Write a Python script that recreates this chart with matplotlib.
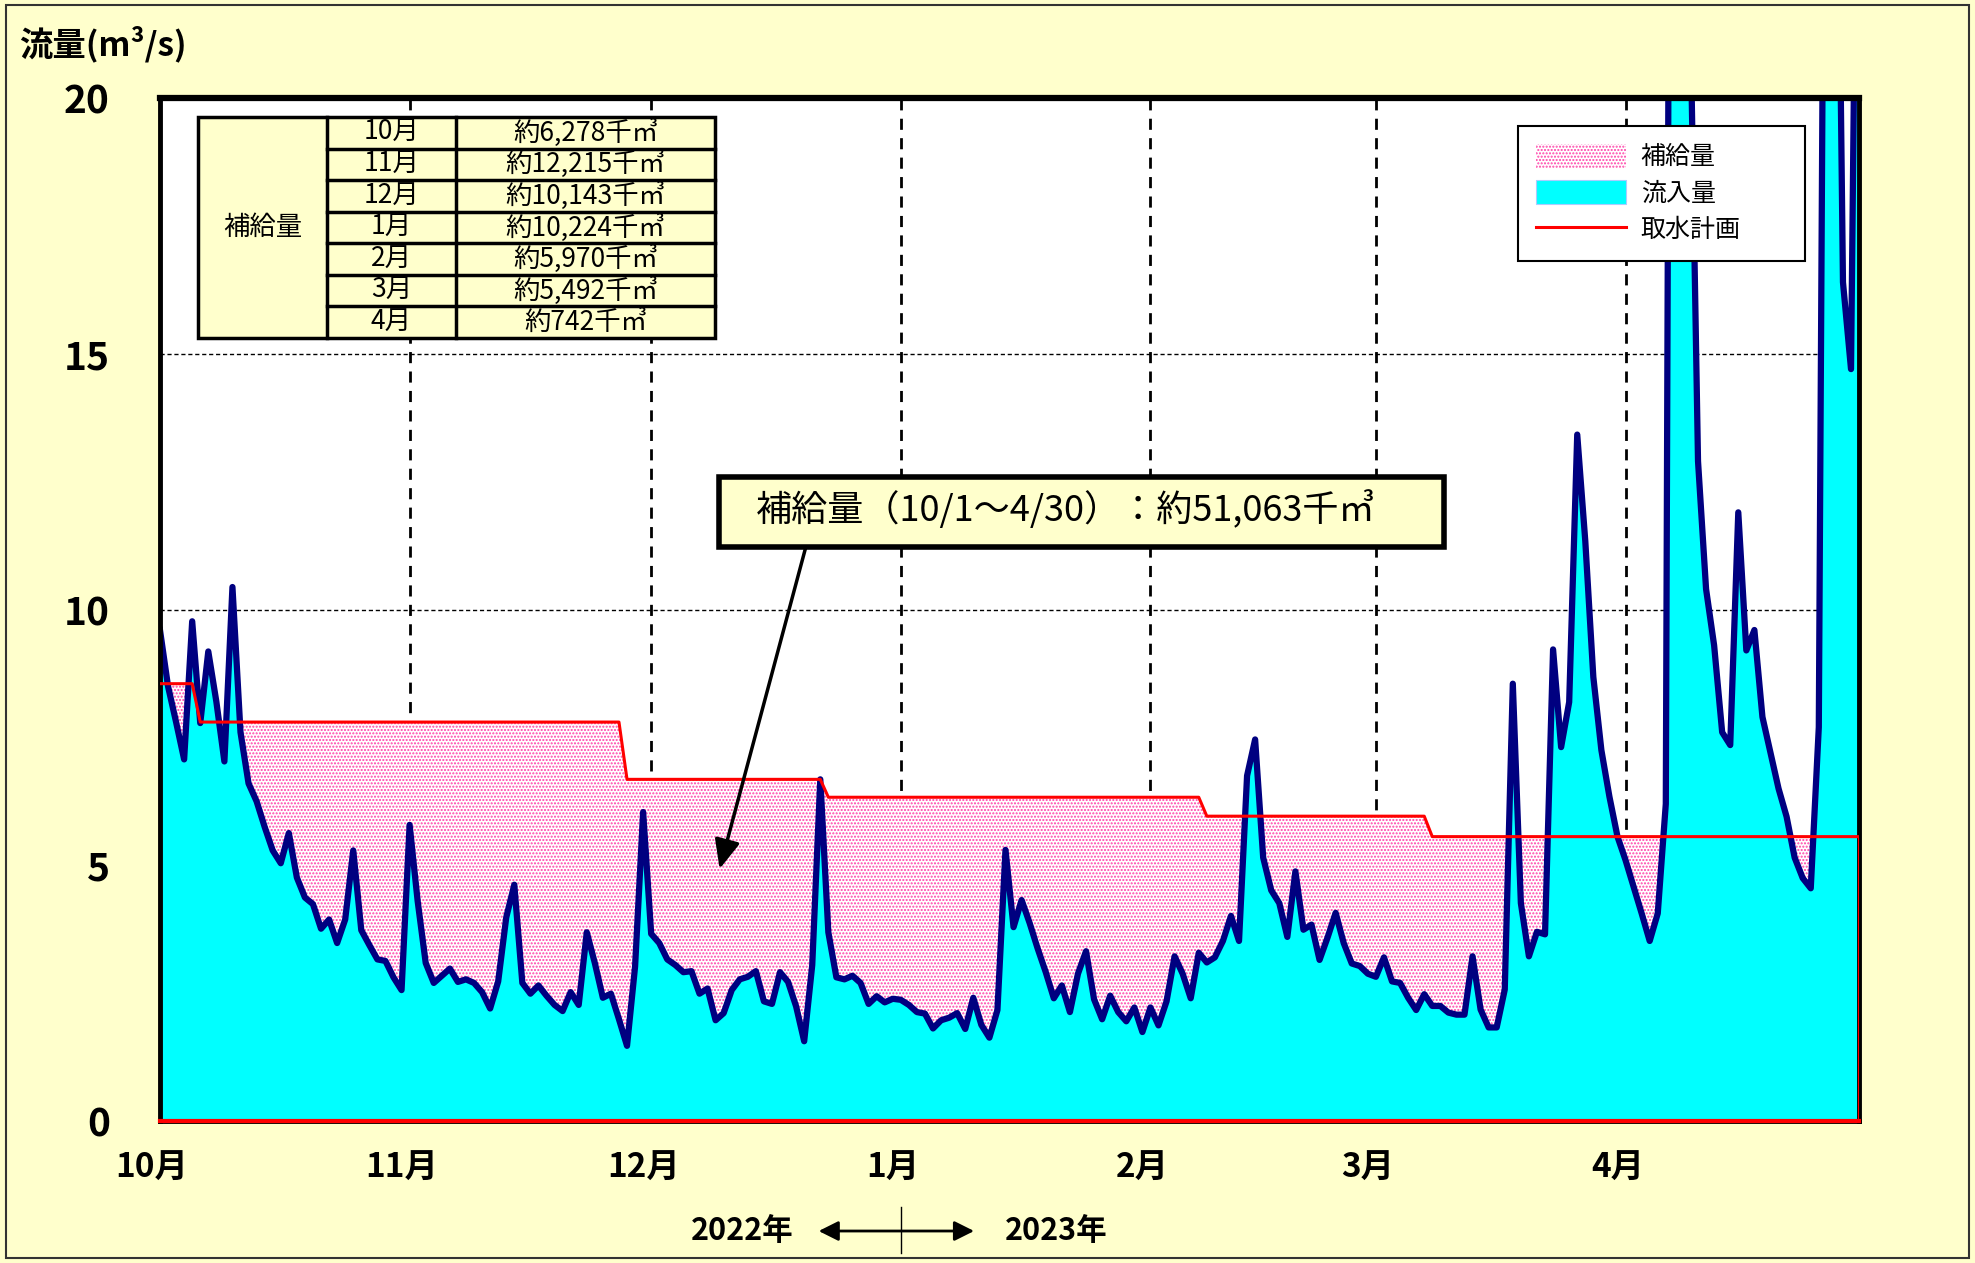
import numpy as np
import matplotlib
matplotlib.use('Agg')
import matplotlib.pyplot as plt
import matplotlib.transforms as mtransforms
from matplotlib.patches import Rectangle, Patch
from matplotlib.lines import Line2D

plt.rcParams['font.family'] = ['Noto Sans CJK JP', 'DejaVu Sans']
plt.rcParams['hatch.color'] = '#FF3FA8'
plt.rcParams['hatch.linewidth'] = 1.0

# daily inflow (m3/s), 2022/10/1 - 2023/4/30 (values above 20 run off the chart)
inflow = [9.6, 8.5, 7.8, 7.07, 9.77, 7.78, 9.18, 8.2, 7.03, 10.44,
          7.6, 6.6, 6.25, 5.75, 5.29, 5.04, 5.63, 4.76, 4.37, 4.24,
          3.76, 3.94, 3.48, 3.94, 5.29, 3.73, 3.44, 3.16, 3.13, 2.81,
          2.56,  # Oct
          5.79, 4.3, 3.09, 2.7, 2.84, 2.98, 2.72, 2.77, 2.7, 2.52,
          2.2, 2.73, 3.98, 4.62, 2.7, 2.49, 2.65, 2.45, 2.27, 2.15,
          2.52, 2.27, 3.69, 3.09, 2.41, 2.49, 1.99, 1.47, 3.02, 6.04,  # Nov
          3.66, 3.48, 3.16, 3.05, 2.91, 2.93, 2.49, 2.59, 1.97, 2.11,
          2.56, 2.77, 2.82, 2.93, 2.34, 2.29, 2.91, 2.72, 2.24, 1.56,
          3.05, 6.68, 3.69, 2.81, 2.77, 2.84, 2.7, 2.29, 2.44, 2.32,
          2.39,  # Dec
          2.37, 2.27, 2.13, 2.1, 1.81, 1.97, 2.02, 2.11, 1.8, 2.41,
          1.88, 1.63, 2.17, 5.3, 3.79, 4.32, 3.87, 3.37, 2.91, 2.4,
          2.65, 2.13, 2.88, 3.32, 2.38, 1.99, 2.45, 2.13, 1.95, 2.22,
          1.74,  # Jan
          2.22, 1.87, 2.34, 3.22, 2.88, 2.4, 3.29, 3.1, 3.2, 3.52,
          4.01, 3.52, 6.75, 7.46, 5.15, 4.51, 4.26, 3.6, 4.88, 3.74,
          3.84, 3.15, 3.59, 4.07, 3.48, 3.08, 3.03, 2.88,  # Feb
          2.82, 3.2, 2.73, 2.7, 2.41, 2.17, 2.48, 2.25, 2.25, 2.12,
          2.08, 2.08, 3.22, 2.18, 1.83, 1.83, 2.57, 8.55, 4.26, 3.22,
          3.7, 3.65, 9.22, 7.31, 8.19, 13.42, 11.34, 8.68, 7.25, 6.34,
          5.56,  # Mar
          5.1, 4.58, 4.06, 3.52, 4.06, 6.2, 50.0, 40.0, 22.0, 12.9,
          10.4, 9.3, 7.6, 7.35, 11.9, 9.2, 9.6, 7.9, 7.2, 6.5,
          5.95, 5.15, 4.75, 4.55, 7.7, 35.0, 30.0, 16.4, 14.7, 30.0]  # Apr

# intake plan: level and number of days it holds
plan_level = [8.55, 7.8, 6.68, 6.33, 5.96, 5.56]
plan_ndays = [5, 53, 25, 47, 28, 54]

month_pos = [0, 31, 61, 92, 123, 151, 182]
month_labels = ['10月', '11月', '12月', '1月', '2月', '3月', '4月']
supply_value = ['約6,278千㎥', '約12,215千㎥', '約10,143千㎥', '約10,224千㎥',
                '約5,970千㎥', '約5,492千㎥', '約742千㎥']
total_text = '補給量（10/1～4/30）：約51,063千㎥'

inflow = np.array(inflow)
days = np.arange(len(inflow))
plan = np.repeat(plan_level, plan_ndays)

fig = plt.figure(figsize=(19.75, 12.63), dpi=100)
fig.patch.set_facecolor('#FFFFCC')
fig.add_artist(Rectangle((0.003, 0.004), 0.994, 0.992, transform=fig.transFigure,
                         fill=False, edgecolor='#333333', lw=1.5))
ax = fig.add_axes([0.0810, 0.1124, 0.8603, 0.8100])
ax.set_facecolor('white')

# areas and lines
ax.fill_between(days, 0, inflow, color='#00FFFF', lw=0, zorder=1)
ax.fill_between(days, inflow, plan, where=inflow < plan, interpolate=True,
                facecolor='white', edgecolor='#FF3FA8', hatch='.....', lw=0, zorder=1.5)
ax.plot(days, inflow, color='#000080', lw=4.5, solid_joinstyle='round', zorder=2)
ax.plot(days, plan, color='red', lw=2.2, zorder=3)
ax.vlines(days[-1], 0, plan[-1], color='red', lw=2.2, zorder=3)
ax.axhline(0, color='red', lw=3, zorder=4, clip_on=False)

ax.set_xlim(days[0], days[-1])
ax.set_ylim(0, 20)

# grid
ax.set_axisbelow(True)
ax.xaxis.grid(True, color='black', lw=2, ls=(0, (4, 3)))
ax.yaxis.grid(True, color='black', lw=1, ls=(0, (3, 2)))
for s in ax.spines.values():
    s.set_linewidth(3.5)
    s.set_color('black')
ax.spines['top'].set_linewidth(4.5)

ax.set_xticks(month_pos)
ax.set_xticklabels(month_labels, fontsize=24, fontweight='bold')
ax.set_yticks([0, 5, 10, 15, 20])
ax.set_yticklabels(['0', '5', '10', '15', '20'], fontsize=28, fontweight='bold')
ax.tick_params(axis='x', length=0, pad=22)
ax.tick_params(axis='y', length=0, pad=36)
offset = mtransforms.ScaledTranslation(-0.08, 0, fig.dpi_scale_trans)
for lbl in ax.get_xticklabels():
    lbl.set_transform(lbl.get_transform() + offset)

fig.text(0.0096, 0.965, '流量(m³/s)', fontsize=24, fontweight='bold', ha='left', va='center')

# year marks under the axis
blend = mtransforms.blended_transform_factory(ax.transData, ax.transAxes)
ax.text(72.3, -0.1075, '2022年', transform=blend, fontsize=22, fontweight='bold',
        ha='center', va='center')
ax.text(111.3, -0.1075, '2023年', transform=blend, fontsize=22, fontweight='bold',
        ha='center', va='center')
ax.annotate('', xy=(101.1, -0.1075), xytext=(81.8, -0.1075), xycoords=blend, textcoords=blend,
            arrowprops=dict(arrowstyle='<|-|>,head_length=0.8,head_width=0.4', color='black',
                            lw=2, mutation_scale=15, shrinkA=0, shrinkB=0),
            annotation_clip=False)
ax.plot([92, 92], [-0.084, -0.129], transform=blend, color='black', lw=1, clip_on=False)

# monthly supply table
tx = [0.0224, 0.0983, 0.1742, 0.3267]
ty_top, ty_bot = 0.9814, 0.7654
rh = (ty_top - ty_bot) / len(month_labels)
ax.add_patch(Rectangle((tx[0], ty_bot), tx[3] - tx[0], ty_top - ty_bot, transform=ax.transAxes,
                       facecolor='#FFFFCC', edgecolor='black', lw=2.5, zorder=5))
for xv in tx[1:3]:
    ax.plot([xv, xv], [ty_bot, ty_top], transform=ax.transAxes, color='black', lw=2.5, zorder=6)
for i in range(1, len(month_labels)):
    yv = ty_top - i * rh
    ax.plot([tx[1], tx[3]], [yv, yv], transform=ax.transAxes, color='black', lw=2.5, zorder=6)
ax.text((tx[0] + tx[1]) / 2, (ty_top + ty_bot) / 2, '補給量', transform=ax.transAxes,
        fontsize=19, ha='center', va='center', zorder=7)
for i, (m, v) in enumerate(zip(month_labels, supply_value)):
    yc = ty_top - (i + 0.5) * rh
    ax.text((tx[1] + tx[2]) / 2, yc, m, transform=ax.transAxes, fontsize=19,
            ha='center', va='center', zorder=7)
    ax.text((tx[2] + tx[3]) / 2, yc, v, transform=ax.transAxes, fontsize=19,
            ha='center', va='center', zorder=7)

# total supply box with arrow
ax.add_patch(Rectangle((0.329, 0.5611), 0.4267, 0.0684, transform=ax.transAxes,
                       facecolor='#FFFFCC', edgecolor='black', lw=4, zorder=6))
ax.text(0.3508, 0.5973, total_text, transform=ax.transAxes, fontsize=26,
        ha='left', va='center', zorder=7)
ax.annotate('', xy=(69.5, 4.93), xytext=(80.2, 11.22),
            arrowprops=dict(arrowstyle='-|>,head_length=0.8,head_width=0.35', color='black',
                            lw=2.5, mutation_scale=22, shrinkA=0, shrinkB=0), zorder=7)

# legend
handles = [Patch(facecolor='white', edgecolor='#FF3FA8', hatch='.....', lw=0, label='補給量'),
           Patch(facecolor='#00FFFF', edgecolor='#AACCFF', lw=0.8, label='流入量'),
           Line2D([], [], color='red', lw=2.2, label='取水計画')]
leg = ax.legend(handles=handles, loc='upper left', bbox_to_anchor=(0.7993, 0.8397, 0.1689, 0.1329),
                mode='expand', fontsize=18, frameon=True, fancybox=False, edgecolor='black',
                framealpha=1, handlelength=3.6, handleheight=1.1, labelspacing=0.4,
                borderpad=0.7, handletextpad=0.6, borderaxespad=0)
leg.get_frame().set_linewidth(1.5)
leg.set_zorder(10)

fig.savefig('out.png', dpi=100, facecolor=fig.get_facecolor())
